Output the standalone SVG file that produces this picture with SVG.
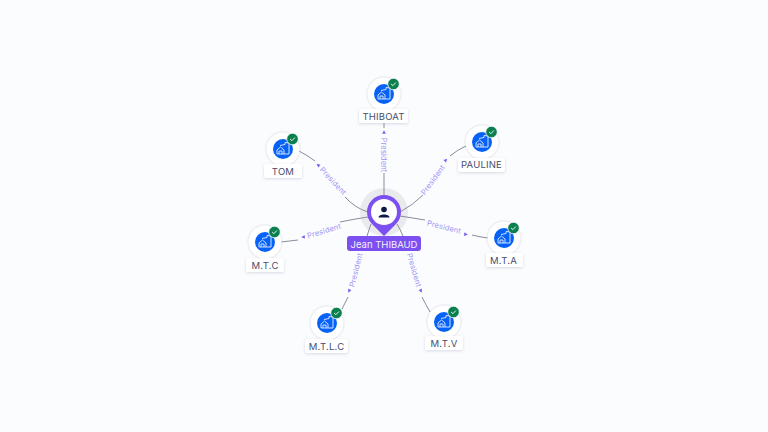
<svg xmlns="http://www.w3.org/2000/svg" width="768" height="432" viewBox="0 0 768 432">
<style>
.bg{fill:#fbfcfe}
.edge{fill:none;stroke:#8b8b9e;stroke-width:1}
.arrow{fill:#7a5cf0}
.rel{font:7.5px "Inter","Liberation Sans",sans-serif;fill:#a194f5;text-anchor:middle;dominant-baseline:central;letter-spacing:.15px}
.name{font:400 9.500px "Inter","Liberation Sans",sans-serif;fill:#474c6e;text-anchor:middle;letter-spacing:.2px}
.lab{fill:#fff;filter:url(#s)}
.halo{fill:#fff;filter:url(#h)}
.disc{fill:#0662f6}
.ico{fill:none;stroke:#cfe0ff;stroke-width:1}
.chk{fill:#0c7f4f;stroke:#fff;stroke-width:.8}
.tick{fill:none;stroke:#fff;stroke-width:.9}
</style>
<defs>
<filter id="s" x="-30%" y="-30%" width="160%" height="170%"><feDropShadow dx="0" dy="1" stdDeviation="1.500" flood-color="#8088a8" flood-opacity=".3"/></filter>
<filter id="h" x="-30%" y="-30%" width="160%" height="160%"><feDropShadow dx="0" dy="0" stdDeviation="1.200" flood-color="#8088a8" flood-opacity=".45"/></filter>
<g id="n">
<circle class="halo" r="16.500"/>
<circle class="disc" r="10"/>
<path class="ico" d="M-6 5V1L-2.500-2 1 1V5M-4 5V2H-1V5M-3-3.500 2-4.500V-6.500L6-6V5H-6"/>
<circle class="chk" cx="9.500" cy="-10" r="5.800"/>
<path class="tick" d="M7.100-10 8.900-8.300 11.900-11.500"/>
</g>
<path id="a" class="arrow" d="M-1.800-1.800 1.800 0-1.800 1.800Z"/>
</defs>
<rect class="bg" width="768" height="432"/>
<circle id="center-halo" cx="384" cy="212" r="24" fill="#e9eaee"/>
<g id="connectors">
<path class="edge" d="M384 196V173M384 128V122"/>
<path class="edge" d="M400 212Q413 205 423 195M450 156Q457 150 466 146"/>
<path class="edge" d="M400 216Q413 218 425 220M472 235Q480 237 488 238"/>
<path class="edge" d="M397 224Q400 229 403 236M422 297Q426 305 430 312"/>
<path class="edge" d="M371 224 367 236M348 297 342 309"/>
<path class="edge" d="M368 217Q354 219 340 222M298 240 281 242"/>
<path class="edge" d="M368 212Q355 208 345 197M315 161Q307 155 299 151"/>
<use href="#a" transform="translate(384 132) rotate(-90)"/>
<use href="#a" transform="translate(446 160) rotate(-45)"/>
<use href="#a" transform="translate(466 234.500) rotate(12)"/>
<use href="#a" transform="translate(421 291) rotate(65)"/>
<use href="#a" transform="translate(349 291) rotate(115)"/>
<use href="#a" transform="translate(303 237) rotate(180)"/>
<use href="#a" transform="translate(318 165) rotate(220)"/>
<text class="rel" transform="translate(383 155) rotate(90)">President</text>
<text class="rel" transform="translate(433 180) rotate(-54)">President</text>
<text class="rel" transform="translate(444 227) rotate(14)">President</text>
<text class="rel" transform="translate(414 270) rotate(74)">President</text>
<text class="rel" transform="translate(356 270) rotate(-76)">President</text>
<text class="rel" transform="translate(324 231) rotate(-17)">President</text>
<text class="rel" transform="translate(333 181) rotate(47)">President</text>
</g>
<g id="center">
<path fill="#7c4ff0" d="M384 236 372 224A17 17 0 1 1 396 224Z"/>
<circle cx="384" cy="212" r="13" fill="#fff"/>
<circle cx="384" cy="209.500" r="2.800" fill="#0b1a4a"/>
<path fill="#0b1a4a" d="M378.500 217.500C378.500 213.500 389.500 213.500 389.500 217.500Z"/>
<rect x="347" y="236" width="74" height="15" rx="3" fill="#7c4ff0"/>
<text x="384" y="247.500" font-family="Inter,'Liberation Sans',sans-serif" font-size="9.500" fill="#f4efff" text-anchor="middle">Jean THIBAUD</text>
</g>
<g id="thiboat"><use href="#n" x="384" y="94"/><rect class="lab" x="359" y="109" width="49" height="14" rx="2"/><text class="name" x="383.500" y="119.500">THIBOAT</text></g>
<g id="pauline"><use href="#n" x="482" y="142"/><rect class="lab" x="458" y="158" width="47" height="14" rx="2"/><text class="name" x="481.500" y="168">PAULINE</text></g>
<g id="mta"><use href="#n" x="504" y="238"/><rect class="lab" x="486" y="253" width="37" height="14" rx="2"/><text class="name" x="503.500" y="264">M.T.A</text></g>
<g id="mtv"><use href="#n" x="444" y="322"/><rect class="lab" x="425" y="336" width="38" height="14" rx="2"/><text class="name" x="444" y="347">M.T.V</text></g>
<g id="mtlc"><use href="#n" x="327" y="323"/><rect class="lab" x="305" y="339" width="43" height="14" rx="2"/><text class="name" x="326.500" y="349.500">M.T.L.C</text></g>
<g id="mtc"><use href="#n" x="265" y="242"/><rect class="lab" x="246" y="258" width="38" height="14" rx="2"/><text class="name" x="265" y="268.500">M.T.C</text></g>
<g id="tom"><use href="#n" x="283" y="149"/><rect class="lab" x="264" y="164" width="38" height="14" rx="2"/><text class="name" x="283" y="174.500">TOM</text></g>
</svg>
